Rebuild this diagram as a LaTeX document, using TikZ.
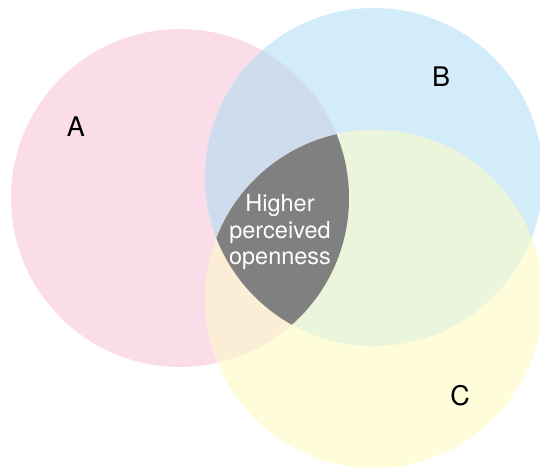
\documentclass[tikz,border=0pt]{standalone}
\usepackage{fontspec}
\setmainfont{TeX Gyre Heros}
\definecolor{setpink}{RGB}{251, 221, 234}
\definecolor{setblue}{RGB}{211, 236, 250}
\definecolor{setyellow}{RGB}{254, 252, 217}
\definecolor{pinkblue}{RGB}{207, 220, 238}
\definecolor{pinkyellow}{RGB}{252, 237, 214}
\definecolor{blueyellow}{RGB}{234, 245, 220}
\definecolor{coregray}{RGB}{128, 128, 128}

\begin{document}
\begin{tikzpicture}[x=1pt,y=-1pt,
        setlabel/.style={font=\fontsize{27}{31}\selectfont,text=black},
        corelabel/.style={font=\fontsize{23.5}{26.5}\selectfont,text=white,align=center}]
        \useasboundingbox (0,0) rectangle (540,469);
        \def\setrad{169}
        \coordinate (seta) at (180,198);
        \coordinate (setb) at (374,177);
        \coordinate (setc) at (374,299);

        % plain circles
        \fill[setpink] (seta) circle[radius=\setrad];
        \fill[setblue] (setb) circle[radius=\setrad];
        \fill[setyellow] (setc) circle[radius=\setrad];

        % overlaps
        \begin{scope}
            \clip (seta) circle[radius=\setrad];
            \fill[pinkblue] (setb) circle[radius=\setrad];
            \fill[pinkyellow] (setc) circle[radius=\setrad];
        \end{scope}
        \begin{scope}
            \clip (setb) circle[radius=\setrad];
            \fill[blueyellow] (setc) circle[radius=\setrad];
            \clip (seta) circle[radius=\setrad];
            \fill[coregray] (setc) circle[radius=\setrad];
        \end{scope}

        \node[setlabel] (labela) at (76,127) {A};
        \node[setlabel] (labelb) at (441,77) {B};
        \node[setlabel] (labelc) at (460,396) {C};
        \node[corelabel] (core) at (280,232) {Higher\\perceived\\openness};
    \end{tikzpicture}
\end{document}
